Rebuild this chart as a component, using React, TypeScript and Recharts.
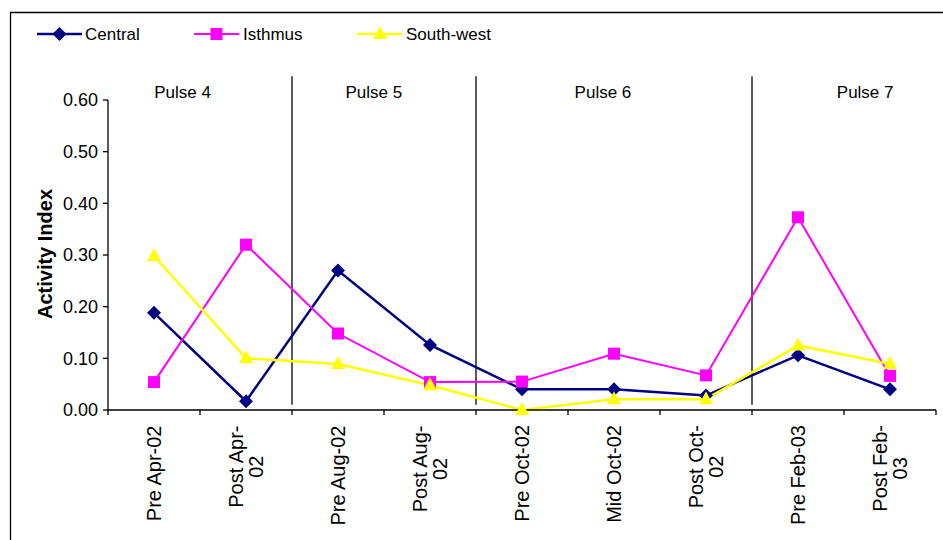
import React from 'react';
import { LineChart, Line, XAxis, YAxis, ReferenceLine, ReferenceDot, Legend } from 'recharts';

const categories = ['Pre Apr-02', 'Post Apr-02', 'Pre Aug-02', 'Post Aug-02', 'Pre Oct-02', 'Mid Oct-02', 'Post Oct-02', 'Pre Feb-03', 'Post Feb-03'];
const tickLabels = [['Pre Apr-02'], ['Post Apr-', '02'], ['Pre Aug-02'], ['Post Aug-', '02'], ['Pre Oct-02'], ['Mid Oct-02'], ['Post Oct-', '02'], ['Pre Feb-03'], ['Post Feb-', '03']];
const central = [0.188, 0.017, 0.270, 0.126, 0.040, 0.040, 0.028, 0.106, 0.040];
const isthmus = [0.054, 0.320, 0.148, 0.054, 0.055, 0.109, 0.067, 0.373, 0.066];
const southWest = [0.298, 0.100, 0.089, 0.048, 0.000, 0.021, 0.021, 0.125, 0.089];
const yTicks = [0, 0.1, 0.2, 0.3, 0.4, 0.5, 0.6];
const xBoundaries = [-0.5, 0.5, 1.5, 2.5, 3.5, 4.5, 5.5, 6.5, 7.5, 8.5];
const pulseLabels = ['Pulse 4', 'Pulse 5', 'Pulse 6', 'Pulse 7'];
const pulseSeparators = [1.5, 3.5, 6.5];

const data = categories.map((c, i) => ({ idx: i, name: c, central: central[i], isthmus: isthmus[i], southWest: southWest[i] }));

const FONT = '"Liberation Sans", Arial, sans-serif';
const W = 943;
const H = 540;
const MARGIN = { top: 100, right: 7, bottom: 0, left: 0 };
const Y_AXIS_W = 108;
const X_AXIS_H = 130;
const STEP = (W - MARGIN.left - MARGIN.right - Y_AXIS_W) / 9;

const NAVY = '#000080';
const MAGENTA = '#FF00FF';
const YELLOW = '#FFFF00';

// label placements (styling, in axis units)
const pulseX = [0.31, 2.39, 4.88, 7.73];
const pulseY = 0.615;

let ctx: CanvasRenderingContext2D | null = null;
function measure(text: string, font: string): number {
  try {
    if (!ctx) ctx = document.createElement('canvas').getContext('2d');
    if (ctx) {
      ctx.font = font;
      return ctx.measureText(text).width;
    }
  } catch (e) {}
  return text.length * 10;
}

const XTick = (props: any) => {
  const { x, y, payload } = props;
  const i = Math.round(payload.value + 0.5);
  if (i < 0 || i > 8) return <g />;
  const lines = tickLabels[i];
  const cx = x + STEP / 2;
  const top = y + 8;
  const fs = 20;
  const w = Math.max(...lines.map((l) => measure(l, `${fs}px "Liberation Sans"`)));
  const midY = top + w / 2;
  return (
    <g>
      {lines.map((l, k) => {
        const lx = cx + (k - (lines.length - 1) / 2) * 20;
        return (
          <text key={k} transform={`translate(${lx},${midY}) rotate(-90)`} textAnchor="middle" dy="0.35em" fontSize={fs} fontFamily={FONT} fill="#000">
            {l}
          </text>
        );
      })}
    </g>
  );
};

const Diamond = (props: any) => {
  const { cx, cy } = props;
  if (cx == null || cy == null) return <g />;
  const r = 7;
  return <path d={`M${cx},${cy - r}L${cx + r},${cy}L${cx},${cy + r}L${cx - r},${cy}Z`} fill={NAVY} stroke="none" />;
};
const Square = (props: any) => {
  const { cx, cy } = props;
  if (cx == null || cy == null) return <g />;
  const s = 6;
  return <rect x={cx - s} y={cy - s} width={2 * s} height={2 * s} fill={MAGENTA} stroke="none" />;
};
const Triangle = (props: any) => {
  const { cx, cy } = props;
  if (cx == null || cy == null) return <g />;
  return <path d={`M${cx},${cy - 8}L${cx + 7},${cy + 5}L${cx - 7},${cy + 5}Z`} fill={YELLOW} stroke="none" />;
};

const LegendContent = () => (
  <svg width={520} height={40} style={{ display: 'block' }}>
    <line x1={37} y1={20} x2={82} y2={20} stroke={NAVY} strokeWidth={2.5} />
    <Diamond cx={59.5} cy={20} />
    <text x={85} y={20} dy="0.35em" fontSize={17} fontFamily={FONT} fill="#000">Central</text>
    <line x1={194} y1={20} x2={239} y2={20} stroke={MAGENTA} strokeWidth={2} />
    <Square cx={216.5} cy={20} />
    <text x={243} y={20} dy="0.35em" fontSize={17} fontFamily={FONT} fill="#000">Isthmus</text>
    <line x1={357} y1={20} x2={402} y2={20} stroke={YELLOW} strokeWidth={2.5} />
    <Triangle cx={380} cy={20} />
    <text x={406} y={20} dy="0.35em" fontSize={17} fontFamily={FONT} fill="#000">South-west</text>
  </svg>
);

const YLabel = () => (
  <text x={45} y={254} transform="rotate(-90 45 254)" textAnchor="middle" dy="0.35em" fontSize={20} fontWeight="bold" fontFamily={FONT} fill="#000">
    Activity Index
  </text>
);

export default function App() {
  return (
    <div style={{ position: 'absolute', left: 0, top: 0, width: W, height: H, background: '#fff', fontFamily: FONT }}>
      <svg width={W} height={H} style={{ position: 'absolute', left: 0, top: 0 }}>
        <line x1={10} y1={12.5} x2={W} y2={12.5} stroke="#000" strokeWidth={1.3} />
        <line x1={10.5} y1={12} x2={10.5} y2={H} stroke="#000" strokeWidth={1.3} />
      </svg>
      <div style={{ position: 'absolute', left: 0, top: 0 }}>
        <LineChart width={W} height={H} data={data} margin={MARGIN}>
          <XAxis
            type="number"
            dataKey="idx"
            domain={[-0.5, 8.5]}
            ticks={xBoundaries}
            interval={0}
            height={X_AXIS_H}
            tick={<XTick />}
            tickSize={5}
            axisLine={{ stroke: '#000', strokeWidth: 1.3 }}
            tickLine={{ stroke: '#000', strokeWidth: 1.3 }}
          />
          <YAxis
            type="number"
            domain={[0, 0.6]}
            ticks={yTicks}
            interval={0}
            width={Y_AXIS_W}
            tickSize={5}
            tickMargin={5}
            tickFormatter={(v: number) => v.toFixed(2)}
            tick={{ fontSize: 18, fill: '#000', fontFamily: FONT }}
            axisLine={{ stroke: '#000', strokeWidth: 1.3 }}
            tickLine={{ stroke: '#000', strokeWidth: 1.3 }}
            label={{ content: () => <YLabel /> }}
          />
          {pulseSeparators.map((s) => (
            <ReferenceLine
              key={s}
              segment={[{ x: s, y: 0.646 }, { x: s, y: 0.01 }]}
              ifOverflow="visible"
              stroke="#000"
              strokeWidth={1.3}
            />
          ))}
          {pulseLabels.map((p, k) => (
            <ReferenceDot
              key={p}
              x={pulseX[k]}
              y={pulseY}
              r={0}
              ifOverflow="visible"
              fill="none"
              stroke="none"
              label={{ value: p, position: 'center', fontSize: 17, fill: '#000', fontFamily: FONT }}
            />
          ))}
          <Line type="linear" dataKey="central" name="Central" stroke={NAVY} strokeWidth={2.5} dot={<Diamond />} activeDot={false} isAnimationActive={false} />
          <Line type="linear" dataKey="isthmus" name="Isthmus" stroke={MAGENTA} strokeWidth={2} dot={<Square />} activeDot={false} isAnimationActive={false} />
          <Line type="linear" dataKey="southWest" name="South-west" stroke={YELLOW} strokeWidth={2.5} dot={<Triangle />} activeDot={false} isAnimationActive={false} />
          <Legend
            layout="horizontal"
            align="center"
            verticalAlign="middle"
            content={<LegendContent />}
            wrapperStyle={{ position: 'absolute', top: 14, left: 0, width: 520, height: 40 }}
          />
        </LineChart>
      </div>
    </div>
  );
}
